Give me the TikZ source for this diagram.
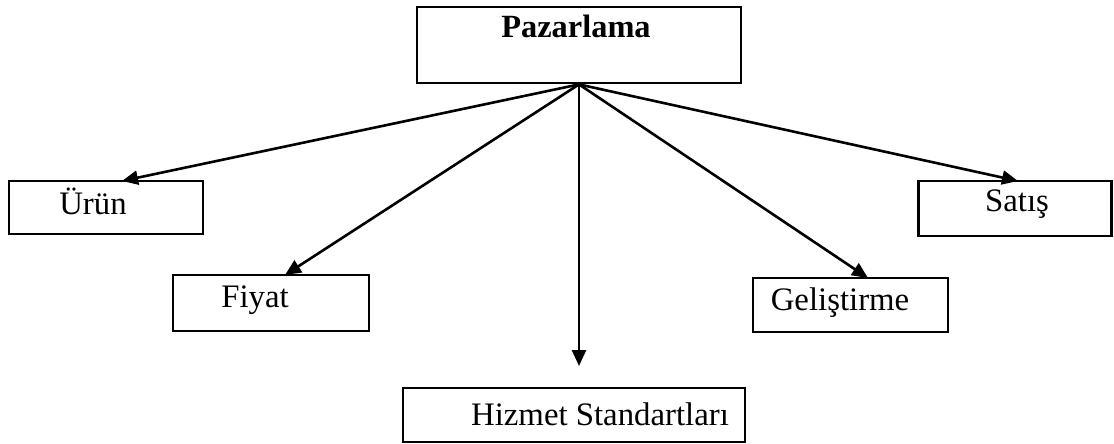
\documentclass[tikz,border=0pt]{standalone}
\usepackage{fontspec}
\setmainfont{Liberation Serif}
\usetikzlibrary{arrows.meta}
\begin{document}
\begin{tikzpicture}[x=0.5pt,y=-0.5pt,
  box/.style={draw,line width=1.4pt,inner sep=0pt,minimum width=#1},
  lbl/.style={inner sep=0pt,anchor=base,font=\fontsize{16.4}{19}\selectfont},
  arr/.style={line width=1.3pt,-{Triangle[length=8pt,width=7pt]}}]
\useasboundingbox (0,0) rectangle (1114,444);
\node[box=162pt,minimum height=38pt] (paz) at (579,45) {};
\node[lbl,font=\fontsize{16.2}{19}\selectfont\bfseries] (pazt) at (576,38) {Pazarlama};
\node[box=97pt,minimum height=26.5pt] (urun) at (106,207.5) {};
\node[lbl] (urunt) at (93,214) {Ürün};
\node[box=98pt,minimum height=28pt] (fiyat) at (271,303) {};
\node[lbl] (fiyatt) at (255,307) {Fiyat};
\node[box=97.5pt,minimum height=27pt] (gel) at (850.5,305) {};
\node[lbl] (gelt) at (840,310) {Geliştirme};
\node[box=96.5pt,minimum height=27.5pt] (satis) at (1015,208.5) {};
\node[lbl] (satist) at (1017,212) {Satış};
\node[box=171pt,minimum height=27pt] (hiz) at (574,415) {};
\node[lbl] (hizt) at (600,425) {Hizmet Standartları};
\coordinate (tU) at (122,181);
\coordinate (tF) at (285,275);
\coordinate (tG) at (868,278);
\coordinate (tS) at (1018,181);
\coordinate (tH) at (579,366);
\draw[arr] (paz.south) -- (tU);
\draw[arr] (paz.south) -- (tF);
\draw[arr] (paz.south) -- (tG);
\draw[arr] (paz.south) -- (tS);
\draw[arr] (paz.south) -- (tH);
\end{tikzpicture}
\end{document}
